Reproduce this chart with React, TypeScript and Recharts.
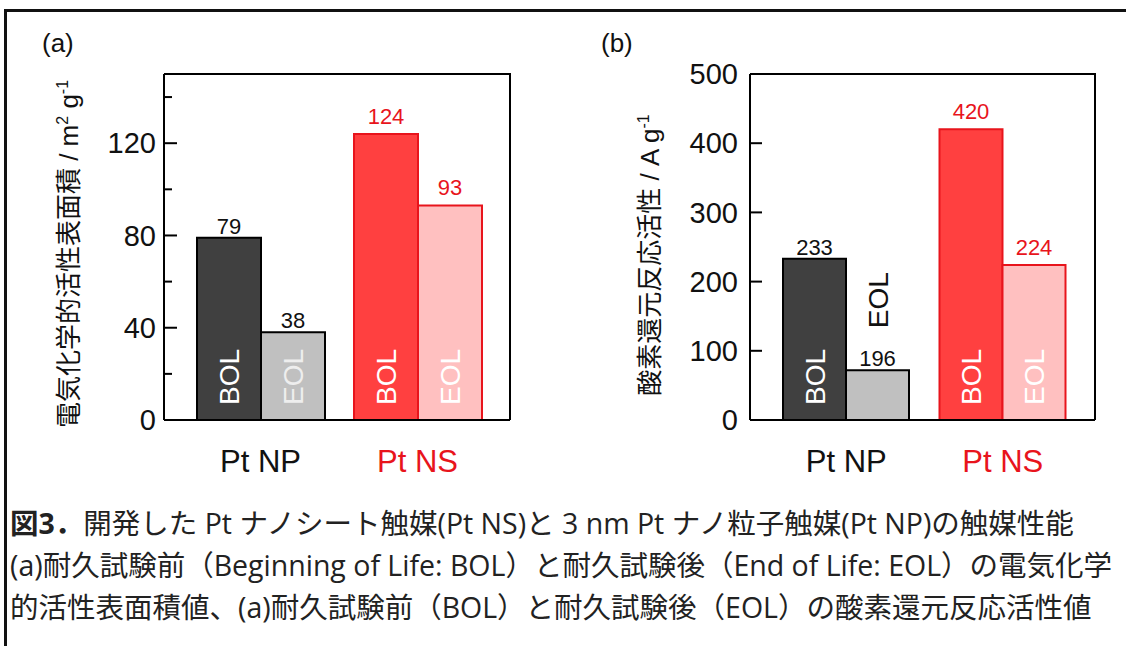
import React from 'react';
import { BarChart, Bar, XAxis, YAxis, Cell, LabelList } from 'recharts';

// ---------- data ----------
const categories = ['Pt NP', 'Pt NS'];

// (a) electrochemical active surface area / m2 g-1
const ecsaBOL = [79, 124];
const ecsaEOL = [38, 93];
const ecsaBOLLabels = ['79', '124'];
const ecsaEOLLabels = ['38', '93'];
const ecsaTicks = [0, 20, 40, 60, 80, 100, 120, 140];
const ecsaMajorTicks = [0, 40, 80, 120];

// (b) ORR activity / A g-1
const orrBOL = [233, 420];
const orrEOL = [72, 224];
const orrBOLLabels = ['233', '420'];
const orrEOLLabels = ['196', '224'];
const orrTicks = [0, 100, 200, 300, 400, 500];
const orrMajorTicks = [0, 100, 200, 300, 400, 500];

const seriesNames = ['BOL', 'EOL'];

const captionLines = [
  '開発した Pt ナノシート触媒(Pt NS)と 3 nm Pt ナノ粒子触媒(Pt NP)の触媒性能',
  '(a)耐久試験前（Beginning of Life: BOL）と耐久試験後（End of Life: EOL）の電気化学',
  '的活性表面積値、(a)耐久試験前（BOL）と耐久試験後（EOL）の酸素還元反応活性値',
];

// ---------- styles ----------
const LATIN = "'Liberation Sans', Arial, 'Noto Sans CJK JP', sans-serif";
const BOL_FILL = ['#404040', '#ff4040'];
const EOL_FILL = ['#c0c0c0', '#ffc0c0'];
const BAR_STROKE = ['#000000', '#e8141c'];
const LABEL_COLOR = ['#111111', '#e8141c'];
const INNER_COLOR_BOL = ['#ffffff', '#ffffff'];
const INNER_COLOR_EOL = ['#eeeeee', '#ffffff'];
const VALUE_GAP = [4, 10];

const buildData = (bol: number[], eol: number[], bolL: string[], eolL: string[]) =>
  categories.map((name, i) => ({ name, BOL: bol[i], EOL: eol[i], bolLabel: bolL[i], eolLabel: eolL[i] }));

const dataA = buildData(ecsaBOL, ecsaEOL, ecsaBOLLabels, ecsaEOLLabels);
const dataB = buildData(orrBOL, orrEOL, orrBOLLabels, orrEOLLabels);

const makeYTick = (major: number[], margin: number, majorLen: number, minorLen: number) => (props: any) => {
  const { x, y, payload } = props;
  const isMajor = major.includes(payload.value);
  const x0 = x + margin;
  return (
    <g>
      <line x1={x0} x2={x0 + (isMajor ? majorLen : minorLen)} y1={y} y2={y} stroke="#000" strokeWidth={2} />
      {isMajor && (
        <text x={x} y={y} dy="0.355em" textAnchor="end" fontSize={29} fill="#111" fontFamily={LATIN}>
          {payload.value}
        </text>
      )}
    </g>
  );
};

const XTick = (props: any) => {
  const { x, y, payload, index } = props;
  return (
    <text x={x} y={y} dy={52} textAnchor="middle" fontSize={31} fill={LABEL_COLOR[index]} fontFamily={LATIN}>
      {payload.value}
    </text>
  );
};

const valueLabel = (p: any) => {
  const { x, y, width, value, index } = p;
  return (
    <text x={x + width / 2} y={y - VALUE_GAP[index]} textAnchor="middle" fontSize={22} fill={LABEL_COLOR[index]} fontFamily={LATIN}>
      {value}
    </text>
  );
};

const makeInner = (text: string, colors: string[]) => (p: any) => {
  const { x, y, width, height, index } = p;
  const cx = x + width / 2;
  const inside = height >= 80;
  const startY = inside ? y + height - 15 : y - 42;
  const fill = inside ? colors[index] : '#111111';
  return (
    <text
      transform={`translate(${cx},${startY}) rotate(-90)`}
      textAnchor="start"
      dy="0.36em"
      fontSize={28}
      fill={fill}
      fontFamily={LATIN}
    >
      {text}
    </text>
  );
};

const YLabel = ({ cx, cy, main, unit }: any) => (
  <text
    transform={`translate(${cx},${cy}) rotate(-90)`}
    textAnchor="middle"
    dy="0.36em"
    fontSize={26}
    fill="#111"
    fontFamily={LATIN}
  >
    {main}
    {unit}
  </text>
);

interface PanelProps {
  data: any[];
  width: number;
  yWidth: number;
  marginRight: number;
  domain: [number, number];
  ticks: number[];
  major: number[];
  tickMargin: number;
  majorLen: number;
  minorLen: number;
  labelCx: number;
  labelCy: number;
  labelMain: string;
  labelUnit: React.ReactNode;
}

const PLOT_TOP = 74;
const PLOT_H = 346;

function Panel(p: PanelProps) {
  const axisLine = { stroke: '#000', strokeWidth: 2 };
  const plotW = p.width - p.yWidth - p.marginRight;
  const labelContent = () => <YLabel cx={p.labelCx} cy={p.labelCy} main={p.labelMain} unit={p.labelUnit} />;
  return (
    <div style={{ position: 'relative', width: p.width, height: 500 }}>
      <BarChart
        width={p.width}
        height={500}
        data={p.data}
        margin={{ top: PLOT_TOP, right: p.marginRight, bottom: 20, left: 0 }}
        barCategoryGap={15}
        barGap={0}
      >
        <XAxis
          dataKey="name"
          height={60}
          axisLine={axisLine}
          tickLine={false}
          tickSize={0}
          tickMargin={0}
          tick={<XTick />}
          padding={{ left: 18, right: 14 }}
          interval={0}
        />
        <YAxis
          width={p.yWidth}
          domain={p.domain}
          ticks={p.ticks}
          interval={0}
          allowDataOverflow
          axisLine={axisLine}
          tickLine={false}
          tickSize={0}
          tickMargin={p.tickMargin}
          tick={makeYTick(p.major, p.tickMargin, p.majorLen, p.minorLen)}
          label={{ content: labelContent }}
        />
        <Bar dataKey="BOL" name={seriesNames[0]} isAnimationActive={false}>
          {p.data.map((_, i) => (
            <Cell key={i} fill={BOL_FILL[i]} stroke={BAR_STROKE[i]} strokeWidth={2} />
          ))}
          <LabelList dataKey="BOL" content={makeInner(seriesNames[0], INNER_COLOR_BOL)} />
          <LabelList dataKey="bolLabel" content={valueLabel} />
        </Bar>
        <Bar dataKey="EOL" name={seriesNames[1]} isAnimationActive={false}>
          {p.data.map((_, i) => (
            <Cell key={i} fill={EOL_FILL[i]} stroke={BAR_STROKE[i]} strokeWidth={2} />
          ))}
          <LabelList dataKey="EOL" content={makeInner(seriesNames[1], INNER_COLOR_EOL)} />
          <LabelList dataKey="eolLabel" content={valueLabel} />
        </Bar>
      </BarChart>
      <svg
        width={p.width}
        height={500}
        style={{ position: 'absolute', left: 0, top: 0, pointerEvents: 'none', overflow: 'visible' }}
      >
        <polyline
          points={`${p.yWidth},${PLOT_TOP} ${p.yWidth + plotW},${PLOT_TOP} ${p.yWidth + plotW},${PLOT_TOP + PLOT_H}`}
          fill="none"
          stroke="#000"
          strokeWidth={2}
        />
      </svg>
    </div>
  );
}

export default function App() {
  return (
    <div
      style={{
        position: 'absolute',
        left: 0,
        top: 0,
        width: 1126,
        height: 646,
        overflow: 'hidden',
        background: '#fff',
      }}
    >
      <div
        style={{
          position: 'absolute',
          left: 4,
          top: 9,
          width: 1400,
          height: 1000,
          borderTop: '3px solid #111',
          borderLeft: '3px solid #111',
        }}
      />
      <div style={{ position: 'absolute', left: 42, top: 30, fontSize: 26, lineHeight: '26px', fontFamily: LATIN, color: '#111' }}>
        (a)
      </div>
      <div style={{ position: 'absolute', left: 601, top: 30, fontSize: 26, lineHeight: '26px', fontFamily: LATIN, color: '#111' }}>
        (b)
      </div>
      <div style={{ position: 'absolute', left: 0, top: 0 }}>
        <Panel
          data={dataA}
          width={540}
          yWidth={164}
          marginRight={30}
          domain={[0, 150]}
          ticks={ecsaTicks}
          major={ecsaMajorTicks}
          tickMargin={8}
          majorLen={13}
          minorLen={8}
          labelCx={69}
          labelCy={254}
          labelMain="電気化学的活性表面積 / "
          labelUnit={
            <>
              m<tspan dy={-10} fontSize={16}>2</tspan>
              <tspan dy={10}> g</tspan>
              <tspan dy={-10} fontSize={16}>-1</tspan>
            </>
          }
        />
      </div>
      <div style={{ position: 'absolute', left: 560, top: 0 }}>
        <Panel
          data={dataB}
          width={566}
          yWidth={190}
          marginRight={31}
          domain={[0, 500]}
          ticks={orrTicks}
          major={orrMajorTicks}
          tickMargin={12}
          majorLen={12}
          minorLen={8}
          labelCx={90}
          labelCy={255}
          labelMain="酸素還元反応活性 / "
          labelUnit={
            <>
              A g<tspan dy={-10} fontSize={16}>-1</tspan>
            </>
          }
        />
      </div>
      <div
        style={{
          position: 'absolute',
          left: 10,
          top: 502,
          fontSize: 28.5,
          lineHeight: '42px',
          fontFamily: "'Open Sans', 'Noto Sans CJK JP', sans-serif",
          color: '#222',
          whiteSpace: 'nowrap',
        }}
      >
        <div>
          <b>図3．</b>
          {captionLines[0]}
        </div>
        <div>{captionLines[1]}</div>
        <div>{captionLines[2]}</div>
      </div>
    </div>
  );
}
